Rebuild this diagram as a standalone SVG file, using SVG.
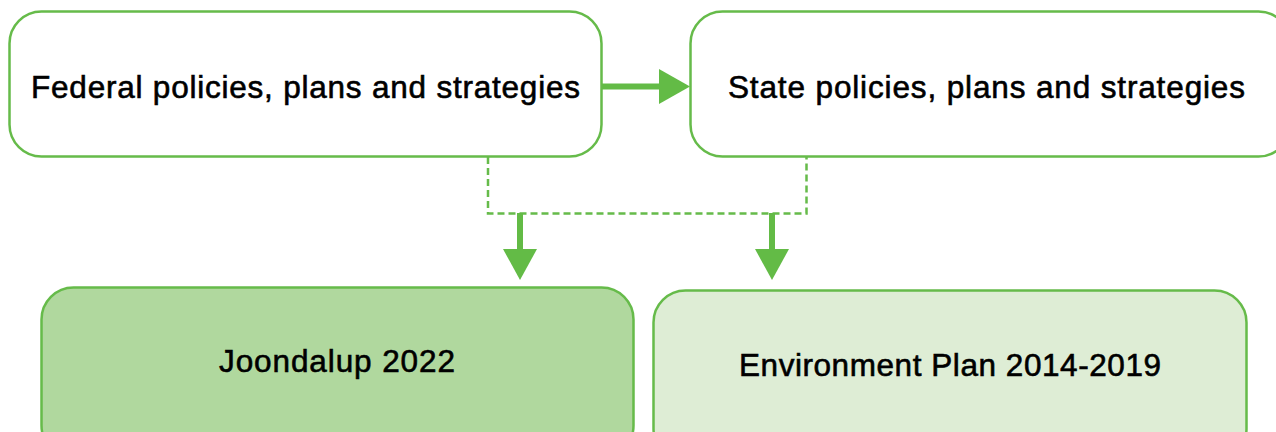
<svg xmlns="http://www.w3.org/2000/svg" width="1276" height="432" viewBox="0 0 1276 432">
<style>
.box{stroke:#66bb4a;stroke-width:2.5}
.t{font-family:"Liberation Sans",Arial,sans-serif;font-size:31.5px;fill:#000;text-anchor:middle;stroke:#000;stroke-width:0.6}
.solid{stroke:#63bb46;stroke-width:6;fill:none}
.dash{stroke:#66bb4a;stroke-width:2.5;fill:none;stroke-dasharray:7 4}
.head{fill:#63bb46}
</style>
<rect width="1276" height="432" fill="#fff"/>
<g id="federal"><rect class="box" x="9.5" y="11.5" width="592" height="145" rx="32" fill="#fff"/><text class="t" x="305.5" y="97.5" textLength="549" lengthAdjust="spacing">Federal policies, plans and strategies</text></g>
<g id="state"><rect class="box" x="690.5" y="11.5" width="600" height="145" rx="32" fill="#fff"/><text class="t" x="986.5" y="97.5" textLength="517" lengthAdjust="spacing">State policies, plans and strategies</text></g>
<g id="joondalup"><rect class="box" x="41.5" y="287.5" width="592" height="170" rx="32" fill="#b0d89e"/><text class="t" x="337" y="371.5" textLength="236" lengthAdjust="spacing">Joondalup 2022</text></g>
<g id="environment"><rect class="box" x="653.5" y="290.5" width="593" height="170" rx="32" fill="#deedd5"/><text class="t" x="950" y="375.5" textLength="422" lengthAdjust="spacing">Environment Plan 2014-2019</text></g>
<g id="connectors">
<line class="solid" x1="602" y1="86.5" x2="662" y2="86.5"/>
<polygon class="head" points="659,69 690,86.5 659,104"/>
<path class="dash" d="M488 157 V213.5 H806.5 V157"/>
<line class="solid" x1="520" y1="213" x2="520" y2="252"/>
<polygon class="head" points="503,249 537,249 520,280"/>
<line class="solid" x1="772" y1="213" x2="772" y2="252"/>
<polygon class="head" points="755,249 789,249 772,280"/>
</g>
</svg>
